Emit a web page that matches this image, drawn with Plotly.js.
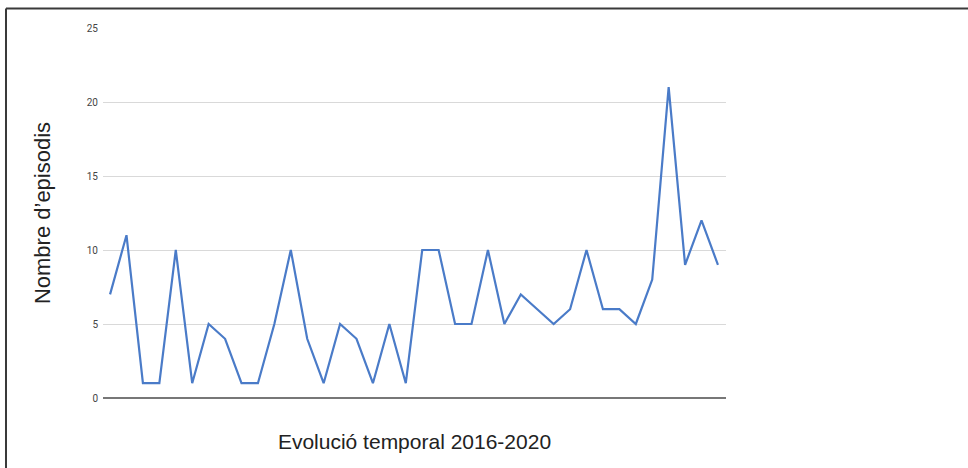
<!DOCTYPE html>
<html>
<head>
<meta charset="utf-8">
<script src="https://cdn.plot.ly/plotly-3.0.1.min.js"></script>
<style>
html,body{margin:0;padding:0;background:#fff;}
#chart{width:968px;height:468px;}
</style>
</head>
<body>
<div id="chart"></div>
<script>
// Episode counts, in time order (2016-2020)
const episodes = [7,11,1,1,10,1,5,4,1,1,5,10,4,1,5,4,1,5,1,10,10,5,5,10,5,7,6,5,6,10,6,6,5,8,21,9,12,9];
const pointIndex = episodes.map((_, i) => i);
const yTicks = [0,5,10,15,20,25];
const xTitle = "Evolució temporal 2016-2020";
const yTitle = "Nombre d’episodis";

const trace = {
  x: pointIndex,
  y: episodes,
  type: 'scatter',
  mode: 'lines',
  line: {color: '#4a7bc8', width: 2.2},
  hoverinfo: 'skip'
};

const layout = {
  width: 968,
  height: 468,
  margin: {l: 103, r: 242, t: 28, b: 70},
  paper_bgcolor: '#fff',
  plot_bgcolor: '#fff',
  showlegend: false,
  font: {family: 'Liberation Sans, Arial, sans-serif', color: '#222'},
  xaxis: {
    range: [-0.43, 37.49],
    showticklabels: false,
    showgrid: false,
    zeroline: false,
    showline: false,
    ticks: '',
    fixedrange: true,
    title: {text: xTitle, font: {size: 21, color: '#222'}, standoff: 36}
  },
  yaxis: {
    range: [0, 25],
    tickvals: yTicks,
    ticktext: yTicks.map(String),
    showgrid: true,
    gridcolor: '#d9d9d9',
    gridwidth: 1,
    zeroline: true,
    zerolinecolor: '#777',
    zerolinewidth: 2,
    showline: false,
    ticks: '',
    ticklabelstandoff: 4,
    tickfont: {size: 10, color: '#444', family: 'Roboto, Arial, sans-serif'},
    fixedrange: true,
    title: {text: yTitle, font: {size: 22, color: '#222'}, standoff: 30}
  },
  shapes: [
    {type: 'line', xref: 'paper', yref: 'paper', x0: -0.1557, x1: 1.40, y0: 1.0527, y1: 1.0527, line: {color: '#3a3a3a', width: 2}},
    {type: 'line', xref: 'paper', yref: 'paper', x0: -0.1557, x1: -0.1557, y0: 1.0527, y1: -0.2, line: {color: '#3a3a3a', width: 2}}
  ]
};

Plotly.newPlot('chart', [trace], layout, {staticPlot: true, displayModeBar: false});
</script>
</body>
</html>
